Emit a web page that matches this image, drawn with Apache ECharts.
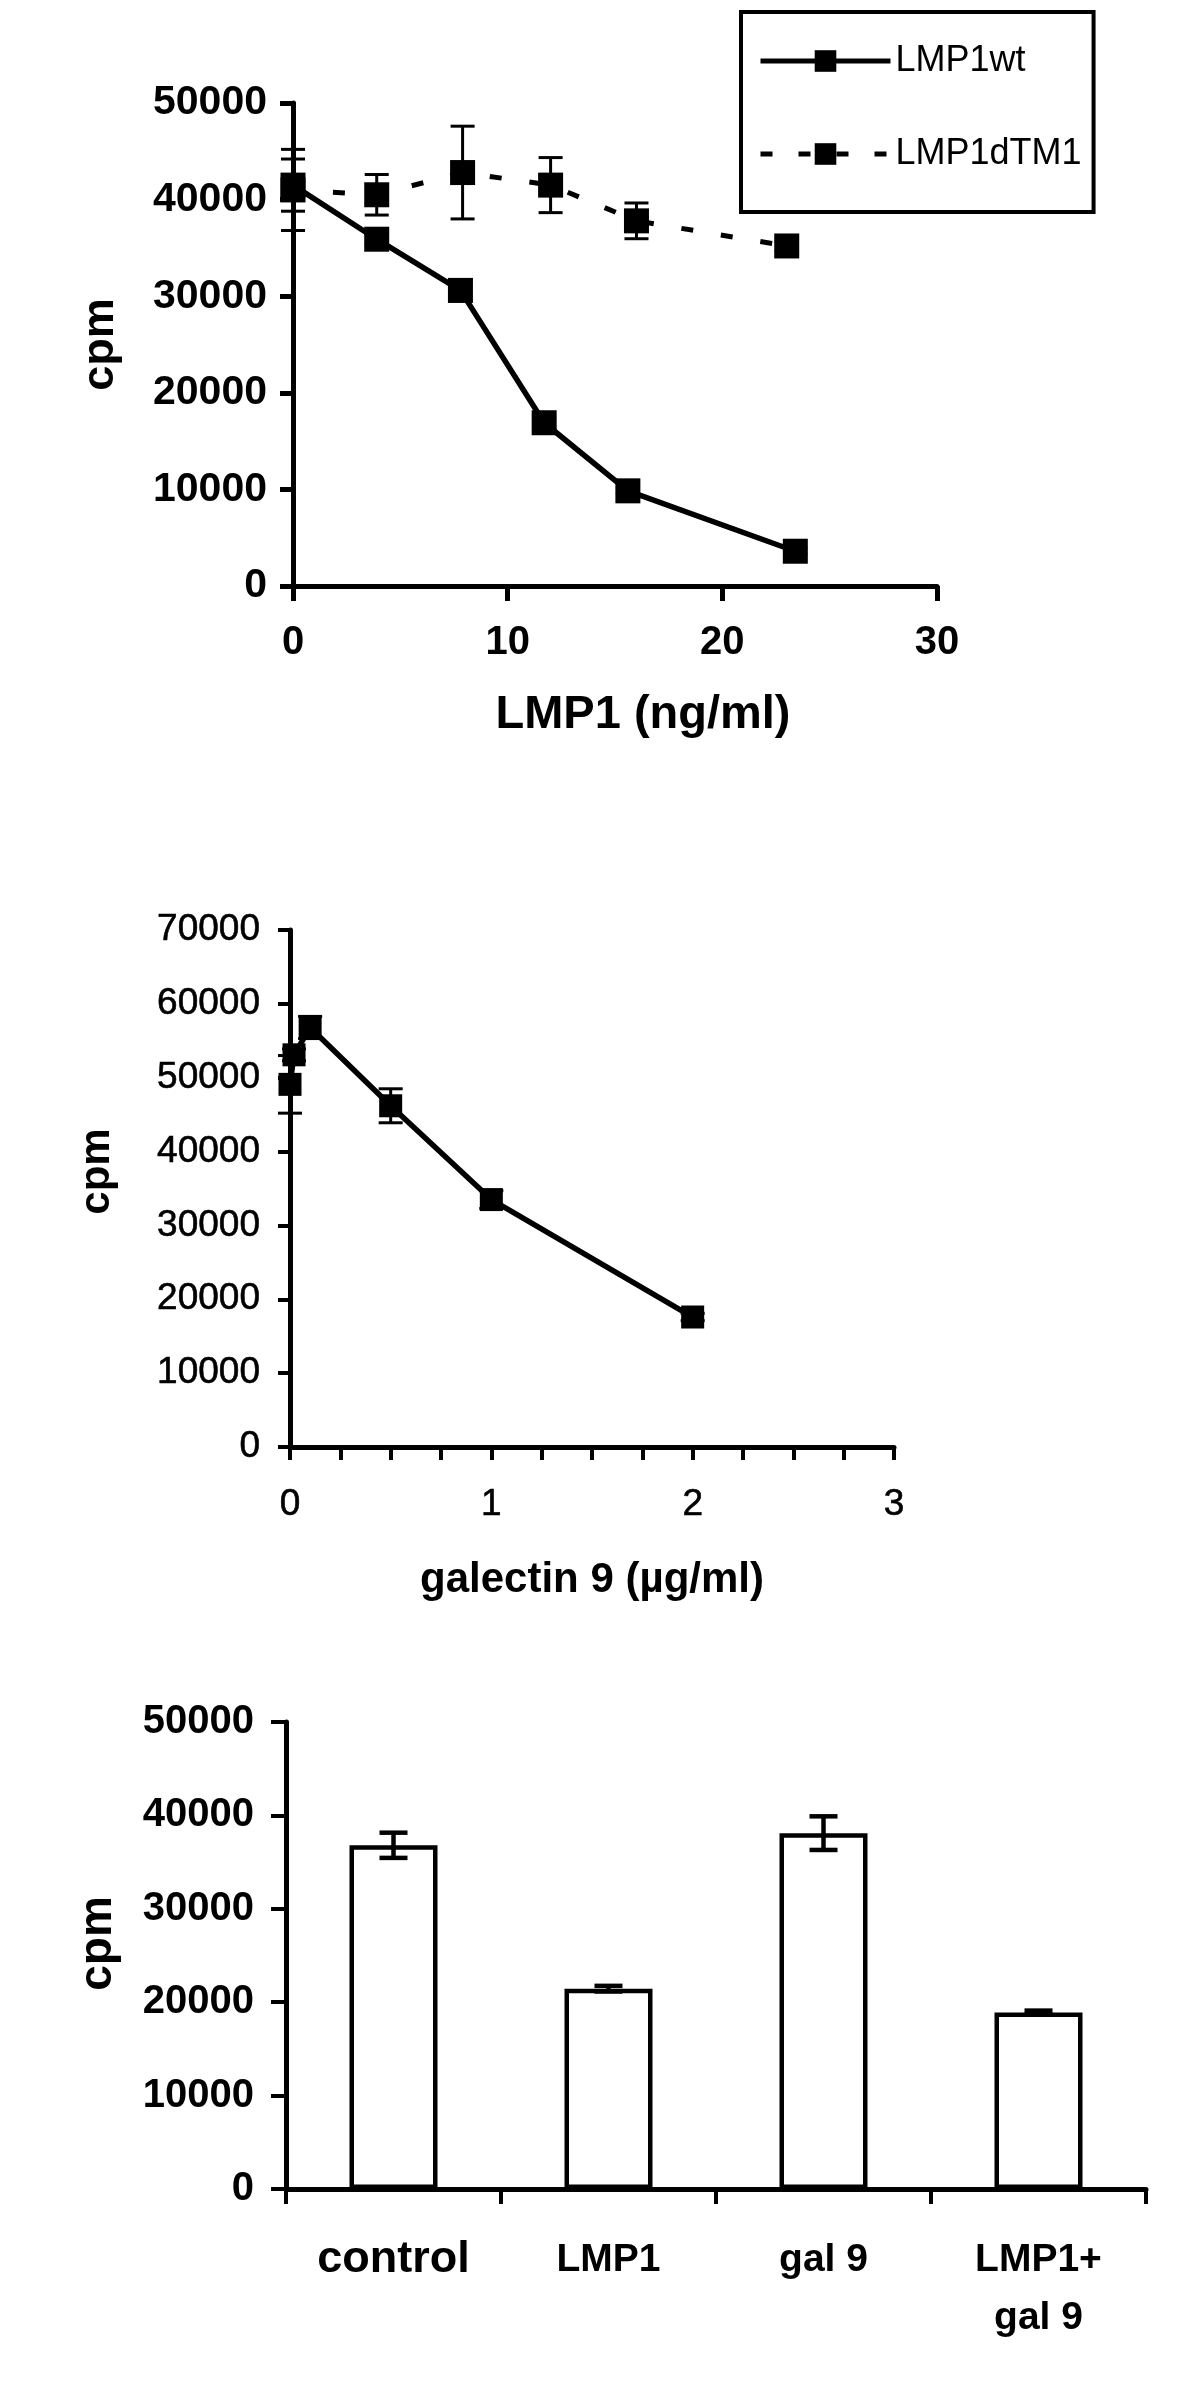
<!DOCTYPE html>
<html>
<head>
<meta charset="utf-8">
<script src="https://cdn.jsdelivr.net/npm/echarts@6/dist/echarts.min.js"></script>
<style>
html, body { margin: 0; padding: 0; background: #fff; }
#chart { width: 1200px; height: 2406px; }
</style>
</head>
<body>
<div id="chart"></div>
<script>
// panel A: cpm vs LMP1 dose
const wtDose = [0, 3.9, 7.8, 11.7, 15.6, 23.4]
const wtCpm = [41500, 35900, 30600, 16900, 9850, 3600]
const wtErr = [2700, 500, 1100, 500, 300, 300]
const dtmDose = [0, 3.9, 7.9, 12, 16, 23]
const dtmCpm = [41000, 40500, 42800, 41500, 37800, 35200]
const dtmErr = [4200, 2100, 4800, 2850, 1850, 500]
const doseTicks = [0, 10, 20, 30]

// panel B: cpm vs galectin 9
const galDose = [0, 0.02, 0.1, 0.5, 1, 2]
const galCpm = [49100, 53100, 56800, 46200, 33500, 17600]
const galErr = [3900, 800, 1500, 2300, 1200, 500]

// panel C: bars
const barCats = ['control', 'LMP1', 'gal 9', 'LMP1+\ngal 9']
const barCpm = [36800, 21450, 38100, 18900]
const barErr = [1350, 300, 1800, 200]

const FONT = 'Liberation Sans, Arial, sans-serif'
const black = '#000'

// vertical error bar with caps, drawn through the axis scale
const errorBars = (xIdx, yIdx, xs, ys, errs, capHalf, width, z) => ({
  type: 'custom',
  xAxisIndex: xIdx,
  yAxisIndex: yIdx,
  silent: true,
  z: z,
  data: xs.map((x, i) => [x, ys[i], errs[i]]),
  renderItem: (params, api) => {
    const x = api.value(0)
    const y = api.value(1)
    const e = api.value(2)
    const hi = api.coord([x, y + e])
    const lo = api.coord([x, y - e])
    const st = { stroke: black, lineWidth: width }
    return {
      type: 'group',
      children: [
        { type: 'line', shape: { x1: hi[0], y1: hi[1], x2: lo[0], y2: lo[1] }, style: st },
        { type: 'line', shape: { x1: hi[0] - capHalf, y1: hi[1], x2: hi[0] + capHalf, y2: hi[1] }, style: st },
        { type: 'line', shape: { x1: lo[0] - capHalf, y1: lo[1], x2: lo[0] + capHalf, y2: lo[1] }, style: st }
      ]
    }
  }
})

const axisLine = (w) => ({ show: true, lineStyle: { color: black, width: w } })
const axisTick = (len, w) => ({ show: true, inside: false, length: len, interval: 0, lineStyle: { color: black, width: w } })
const plain = v => String(v)

const chart = echarts.init(document.getElementById('chart'))

chart.setOption({
  backgroundColor: '#fff',
  animation: false,
  textStyle: { fontFamily: FONT, color: black },
  grid: [
    { left: 293, top: 103, width: 644, height: 483, outerBoundsMode: 'none' },
    { left: 290, top: 930, width: 604, height: 517, outerBoundsMode: 'none' },
    { left: 286, top: 1722, width: 860, height: 467, outerBoundsMode: 'none' }
  ],
  legend: {
    data: [
      { name: 'LMP1wt', lineStyle: { width: 5 } },
      { name: 'LMP1dTM1', lineStyle: { width: 5, type: [12, 26] } }
    ],
    orient: 'vertical',
    left: 741,
    top: 12,
    padding: [31, 12, 40, 17],
    itemGap: 57,
    itemWidth: 130,
    itemHeight: 27,
    borderColor: black,
    borderWidth: 4,
    textStyle: { fontSize: 36, lineHeight: 36, color: black, fontFamily: FONT }
  },
  xAxis: [
    {
      gridIndex: 0, type: 'value', min: 0, max: 30, interval: 10,
      name: 'LMP1 (ng/ml)', nameLocation: 'middle', nameGap: 106,
      nameTextStyle: { fontSize: 47, fontWeight: 'bold', color: black, padding: [0, 0, 0, 56] },
      axisLine: axisLine(5), axisTick: axisTick(15, 5), splitLine: { show: false },
      axisLabel: { fontSize: 40, fontWeight: 'bold', color: black, margin: 37,
        formatter: v => doseTicks.includes(v) ? String(v) : '' }
    },
    {
      gridIndex: 1, type: 'value', min: 0, max: 3, interval: 0.25,
      name: 'galectin 9 (µg/ml)', nameLocation: 'middle', nameGap: 112,
      nameTextStyle: { fontSize: 42, fontWeight: 'bold', color: black },
      axisLine: axisLine(5), axisTick: axisTick(13, 4), splitLine: { show: false },
      axisLabel: { fontSize: 37, color: black, margin: 39, textBorderColor: black, textBorderWidth: 0.6,
        formatter: v => Number.isInteger(v) ? String(v) : '' }
    },
    {
      gridIndex: 2, type: 'category', data: barCats,
      axisLine: axisLine(5), axisTick: axisTick(15, 4),
      axisLabel: {
        interval: 0,
        fontSize: 39, fontWeight: 'bold', color: black, margin: 42, lineHeight: 58,
        formatter: v => v === 'control' ? `{big|${v}}` : v,
        rich: { big: { fontSize: 45, fontWeight: 'bold', color: black, lineHeight: 58 } }
      }
    }
  ],
  yAxis: [
    {
      gridIndex: 0, type: 'value', min: 0, max: 50000, interval: 10000,
      name: 'cpm', nameLocation: 'middle', nameGap: 170,
      nameTextStyle: { fontSize: 45, fontWeight: 'bold', color: black },
      axisLine: axisLine(5), axisTick: axisTick(13, 5), splitLine: { show: false },
      axisLabel: { fontSize: 41, fontWeight: 'bold', color: black, margin: 26, formatter: plain }
    },
    {
      gridIndex: 1, type: 'value', min: 0, max: 70000, interval: 10000,
      name: 'cpm', nameLocation: 'middle', nameGap: 172,
      nameTextStyle: { fontSize: 42, fontWeight: 'bold', color: black, padding: [0, 0, 0, 34] },
      axisLine: axisLine(5), axisTick: axisTick(12, 4), splitLine: { show: false },
      axisLabel: { fontSize: 37, color: black, margin: 30, textBorderColor: black, textBorderWidth: 0.6, formatter: plain }
    },
    {
      gridIndex: 2, type: 'value', min: 0, max: 50000, interval: 10000,
      name: 'cpm', nameLocation: 'middle', nameGap: 165,
      nameTextStyle: { fontSize: 46, fontWeight: 'bold', color: black, padding: [0, 0, 0, 24] },
      axisLine: axisLine(5), axisTick: axisTick(15, 4), splitLine: { show: false },
      axisLabel: { fontSize: 40, fontWeight: 'bold', color: black, margin: 32, formatter: plain }
    }
  ],
  series: [
    errorBars(0, 0, wtDose, wtCpm, wtErr, 12, 3, 1),
    errorBars(0, 0, dtmDose, dtmCpm, dtmErr, 12, 3, 1),
    {
      name: 'LMP1wt', type: 'line', xAxisIndex: 0, yAxisIndex: 0,
      data: wtDose.map((d, i) => [d, wtCpm[i]]),
      symbol: 'rect', symbolSize: 25,
      itemStyle: { color: black },
      lineStyle: { color: black, width: 5.5 }
    },
    {
      name: 'LMP1dTM1', type: 'line', xAxisIndex: 0, yAxisIndex: 0,
      data: dtmDose.map((d, i) => [d, dtmCpm[i]]),
      symbol: 'rect', symbolSize: 25,
      itemStyle: { color: black },
      lineStyle: { color: black, width: 5, type: [12, 28] }
    },
    errorBars(1, 1, galDose, galCpm, galErr, 12, 3, 1),
    {
      name: 'galectin 9', type: 'line', xAxisIndex: 1, yAxisIndex: 1,
      data: galDose.map((d, i) => [d, galCpm[i]]),
      symbol: 'rect', symbolSize: 23,
      itemStyle: { color: black },
      lineStyle: { color: black, width: 5.5 }
    },
    {
      name: 'bars', type: 'bar', xAxisIndex: 2, yAxisIndex: 2,
      data: barCpm, barWidth: 88,
      itemStyle: { color: '#fff', borderColor: black, borderWidth: 4.5 }
    },
    errorBars(2, 2, barCats.map((c, i) => i), barCpm, barErr, 14, 4.5, 5)
  ]
})
</script>
</body>
</html>
